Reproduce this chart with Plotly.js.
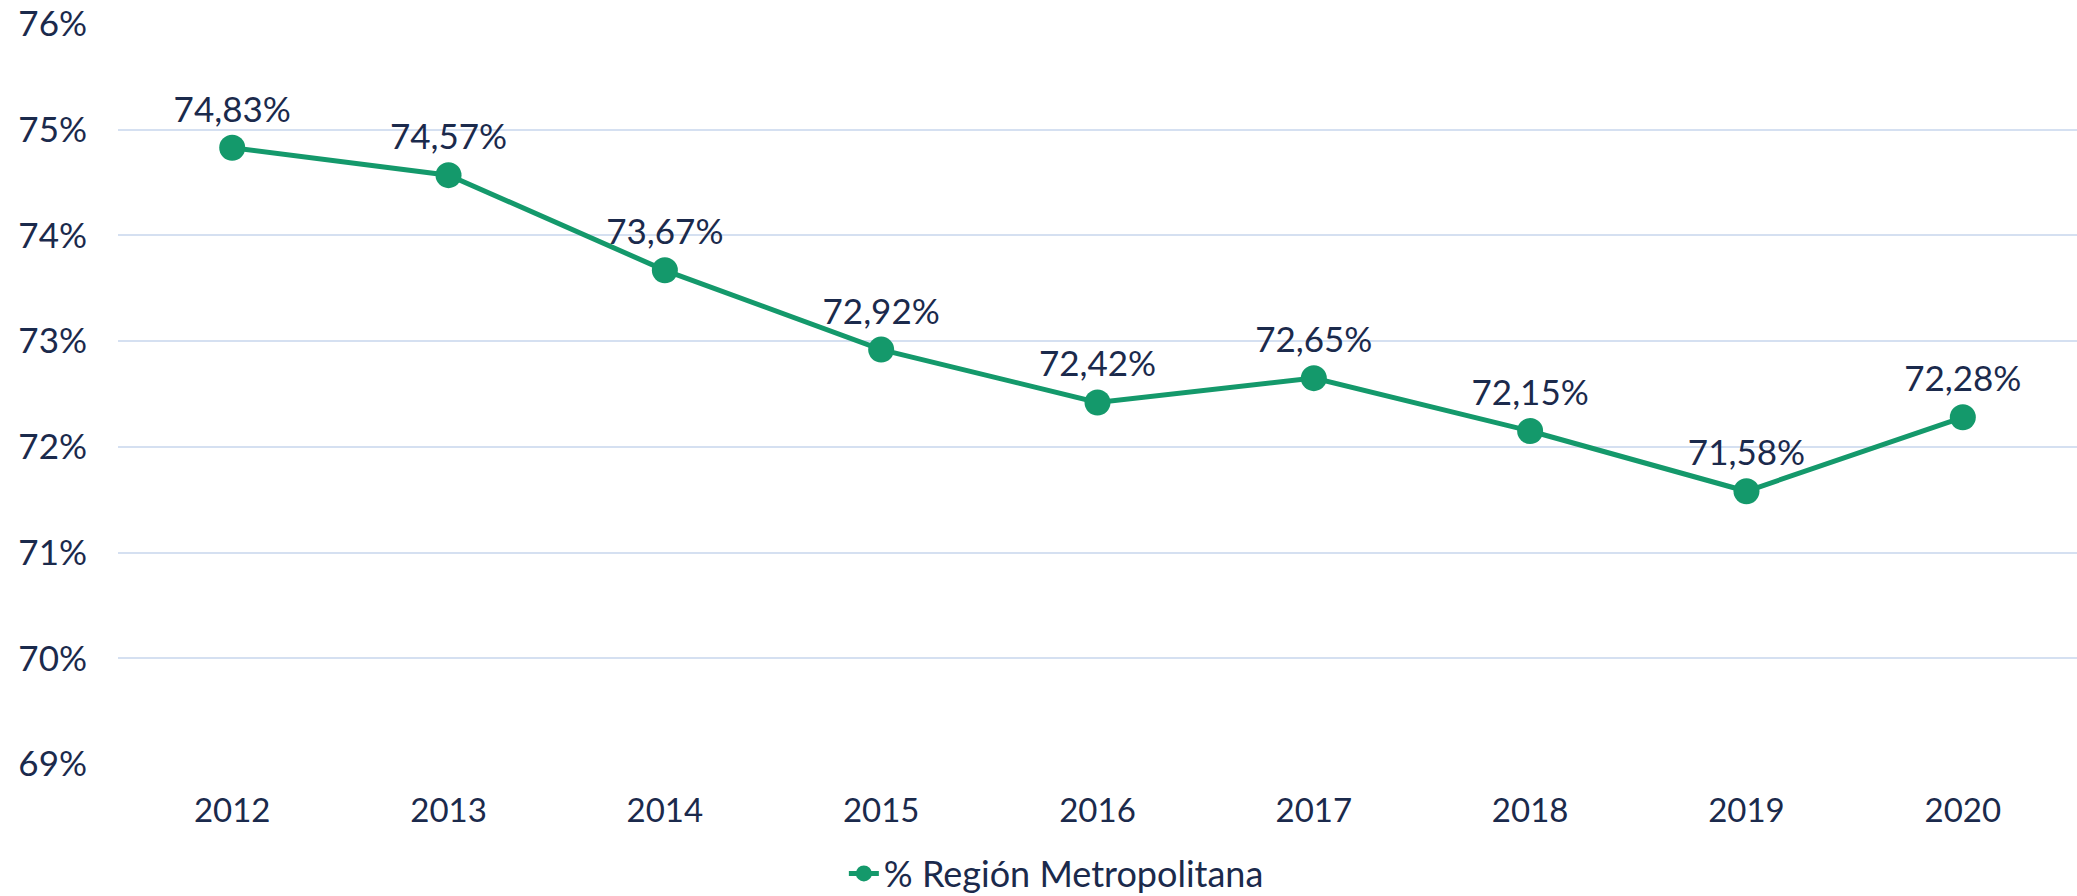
<!DOCTYPE html>
<html><head><meta charset="utf-8">
<script src="https://cdn.plot.ly/plotly-3.0.1.min.js"></script>
<style>html,body{margin:0;padding:0;background:#fff;}#chart{width:2077px;height:896px;}</style>
</head><body><div id="chart"></div>
<script>
const years = ['2012','2013','2014','2015','2016','2017','2018','2019','2020'];
const values = [74.83, 74.57, 73.67, 72.92, 72.42, 72.65, 72.15, 71.58, 72.28];
const seriesName = '% Región Metropolitana';
const yTickVals = [69,70,71,72,73,74,75,76];
const yTickText = ['69%','70%','71%','72%','73%','74%','75%','76%'];

const labels = values.map(v => v.toFixed(2).replace('.', ',') + '%');
const textColor = '#1b2a4c';
const green = '#14996b';

const trace = {
  x: years, y: values, type: 'scatter', mode: 'lines+markers+text',
  name: seriesName,
  line: {color: green, width: 5},
  marker: {color: green, size: 26},
  text: labels, textposition: 'top center',
  textfont: {family: 'Lato', size: 35, color: textColor},
  cliponaxis: false, hoverinfo: 'skip'
};

const layout = {
  width: 2077, height: 896,
  margin: {l: 118, r: 0, t: 24, b: 132, autoexpand: false},
  paper_bgcolor: '#fff', plot_bgcolor: '#fff',
  font: {family: 'Lato', color: textColor},
  xaxis: {
    type: 'category', showgrid: false, zeroline: false, showline: false,
    ticks: '', tickfont: {size: 33, color: textColor}, ticklabelstandoff: 24
  },
  yaxis: {
    range: [69, 76], tickvals: yTickVals, ticktext: yTickText,
    showgrid: true, gridcolor: '#d5e0f1', gridwidth: 2, zeroline: false, showline: false,
    ticks: '', tickfont: {size: 35, color: textColor}, ticklabelstandoff: 30
  },
  showlegend: true,
  legend: {orientation: 'h', x: 0.479, xanchor: 'center', y: -0.148, yanchor: 'middle',
    font: {size: 36, color: textColor}},
};
Plotly.newPlot('chart', [trace], layout, {displayModeBar: false, staticPlot: true});
</script></body></html>
